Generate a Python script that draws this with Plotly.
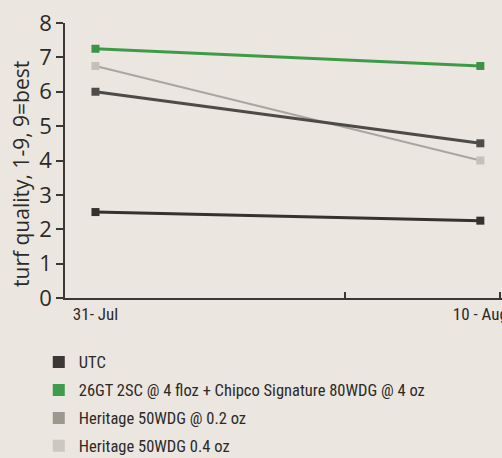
import plotly.graph_objects as go

dates = ["2010-07-31", "2010-08-10"]
tick_labels = ["31- Jul", "10 - Aug"]
series_names = [
    "UTC",
    "26GT 2SC @ 4 floz + Chipco Signature 80WDG @ 4 oz",
    "Heritage 50WDG @ 0.2 oz",
    "Heritage 50WDG 0.4 oz",
]
utc = [2.5, 2.25]
gt_chipco = [7.25, 6.75]
heritage_02 = [6.0, 4.5]
heritage_04 = [6.75, 4.0]
y_title = "turf quality, 1-9, 9=best"

values = [utc, gt_chipco, heritage_02, heritage_04]
line_colors = ["#34312e", "#3f9a47", "#4d4b48", "#a9a6a1"]
marker_colors = ["#34312e", "#3a9444", "#4f4d4a", "#c4c1bb"]
line_widths = [3, 3, 3, 2]
legend_colors = ["#3b3835", "#3f9c4a", "#9b988e", "#cbc8c0"]

BG = "#ebe6df"
FONT = "Roboto Condensed, Liberation Sans Narrow, Roboto, sans-serif"

fig = go.Figure()
order = [3, 2, 0, 1]
for i in order:
    fig.add_trace(go.Scatter(
        x=dates, y=values[i], mode="lines+markers",
        line=dict(color=line_colors[i], width=line_widths[i]),
        marker=dict(symbol="square", size=8, color=marker_colors[i]),
        showlegend=False, hoverinfo="skip",
    ))
for i, name in enumerate(series_names):
    fig.add_trace(go.Scatter(
        x=[None], y=[None], mode="markers", name=name,
        marker=dict(symbol="square", size=12, color=legend_colors[i]),
        legendgroup=f"g{i}",
    ))

fig.add_annotation(
    text=y_title, textangle=-90, xref="paper", yref="paper",
    x=-0.099, y=0.45, xanchor="center", yanchor="middle", showarrow=False,
    font=dict(size=21, family="Open Sans, sans-serif", color="#2b2a28"),
)

fig.update_layout(
    width=502, height=458,
    margin=dict(l=65, r=0, t=23, b=160, autoexpand=False),
    paper_bgcolor=BG, plot_bgcolor=BG,
    font=dict(family=FONT, color="#2b2a28"),
    legend=dict(
        orientation="v", x=-0.06, xanchor="left", y=-0.17, yanchor="top",
        font=dict(size=16.5, family=FONT, color="#2b2a28"),
        bgcolor="rgba(0,0,0,0)", tracegroupgap=3.5, itemsizing="trace",
    ),
    xaxis=dict(
        type="date",
        range=["2010-07-30 05:00", "2010-08-10 13:30"],
        tickmode="array", tickvals=dates, ticktext=tick_labels,
        ticks="", showgrid=False, zeroline=False,
        showline=True, linecolor="#3a3835", linewidth=1.5,
        tickfont=dict(size=17, family=FONT, color="#2b2a28"),
        ticklabeloverflow="allow", automargin=False,
        minor=dict(tickmode="array",
                   tickvals=["2010-08-06 11:45", "2010-08-10 12:30"],
                   ticks="inside", ticklen=6, tickcolor="#3a3835", tickwidth=1.5,
                   showgrid=False),
        fixedrange=True,
    ),
    yaxis=dict(
        range=[0, 8], tickmode="array", tickvals=list(range(0, 9)),
        ticks="outside", ticklen=7, tickcolor="#3a3835", tickwidth=1.5,
        showgrid=False, zeroline=False, automargin=False,
        showline=True, linecolor="#3a3835", linewidth=1.5,
        tickfont=dict(size=22, family="Open Sans, sans-serif", color="#2b2a28"),
        fixedrange=True,
    ),
)

fig.write_html(
    "out.html",
    config={"displayModeBar": False},
    post_script="document.body.style.margin='0px';document.body.style.background='#ebe6df';",
)
